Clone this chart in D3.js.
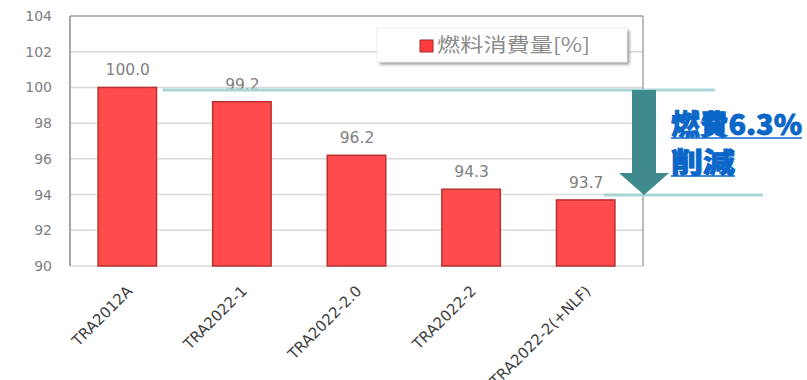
<!DOCTYPE html>
<html>
<head>
<meta charset="utf-8">
<script src="https://cdn.jsdelivr.net/npm/d3@7"></script>
<style>
  html, body { margin: 0; padding: 0; background: #ffffff; }
  svg { display: block; }
</style>
</head>
<body>
<svg id="chart" width="807" height="380"></svg>
<script>
// Fuel consumption per configuration, relative to the baseline (100 %)
const categories = ["TRA2012A", "TRA2022-1", "TRA2022-2.0", "TRA2022-2", "TRA2022-2(+NLF)"];
const fuelValues = [100.0, 99.2, 96.2, 94.3, 93.7];
const yTickValues = [90, 92, 94, 96, 98, 100, 102, 104];
const legendLabel = "燃料消費量[%]";
const calloutLines = ["燃費6.3%", "削減"];

const W = 807, H = 380;
const margin = { top: 16, right: 164, bottom: 114, left: 70 };
const innerW = W - margin.left - margin.right;
const innerH = H - margin.top - margin.bottom;

const svg = d3.select("#chart");
const defs = svg.append("defs");
defs.append("filter").attr("id", "legendShadow")
  .attr("x", "-10%").attr("y", "-30%").attr("width", "130%").attr("height", "180%")
  .append("feGaussianBlur").attr("stdDeviation", 1.5);

const x = d3.scaleBand().domain(categories)
  .range([margin.left, margin.left + innerW]).paddingInner(0.49).paddingOuter(0.245);
const y = d3.scaleLinear().domain([90, 104]).range([margin.top + innerH, margin.top]);

// horizontal gridlines
svg.append("g").selectAll("line").data(yTickValues).join("line")
  .attr("x1", margin.left).attr("x2", margin.left + innerW)
  .attr("y1", d => y(d)).attr("y2", d => y(d))
  .attr("stroke", "#d9d9d9").attr("stroke-width", 1.5);

// plot frame (left axis, top and right borders)
const frame = svg.append("g").attr("stroke", "#a6a6a6").attr("fill", "none");
frame.append("line").attr("x1", margin.left).attr("x2", margin.left)
  .attr("y1", y(104)).attr("y2", y(90)).attr("stroke-width", 2);
frame.append("line").attr("x1", margin.left).attr("x2", margin.left + innerW)
  .attr("y1", y(104)).attr("y2", y(104)).attr("stroke-width", 1.5);
frame.append("line").attr("x1", margin.left + innerW).attr("x2", margin.left + innerW)
  .attr("y1", y(104)).attr("y2", y(90)).attr("stroke-width", 1.5);

// y axis labels
const yAxis = svg.append("g")
  .attr("transform", `translate(${margin.left - 18},0)`)
  .call(d3.axisLeft(y).tickValues(yTickValues).tickSize(0).tickPadding(0).tickFormat(d3.format("d")));
yAxis.select(".domain").remove();
yAxis.selectAll("text")
  .attr("font-family", "DejaVu Sans, sans-serif").attr("font-size", 14).attr("fill", "#808080");

// x axis labels, rotated
const xAxis = svg.append("g")
  .attr("transform", `translate(0,${margin.top + innerH})`)
  .call(d3.axisBottom(x).tickSize(0).tickPadding(0));
xAxis.select(".domain").remove();
xAxis.selectAll("text")
  .attr("font-family", "DejaVu Sans, sans-serif").attr("font-size", 15).attr("fill", "#404040")
  .attr("text-anchor", "end").attr("dy", 0).attr("y", 0)
  .attr("transform", "translate(6,26) rotate(-45)");

// bars
svg.append("g").selectAll("rect").data(fuelValues).join("rect")
  .attr("x", (d, i) => x(categories[i]))
  .attr("y", d => y(d))
  .attr("width", x.bandwidth())
  .attr("height", d => y(90) - y(d))
  .attr("fill", "#ff4b4b").attr("stroke", "#b83030").attr("stroke-width", 1.5);

// value labels
svg.append("g").selectAll("text").data(fuelValues).join("text")
  .attr("x", (d, i) => x(categories[i]) + x.bandwidth() / 2 + 0.5)
  .attr("y", d => y(d) - 12)
  .attr("text-anchor", "middle")
  .attr("font-family", "DejaVu Sans, sans-serif").attr("font-size", 15.5).attr("fill", "#808080")
  .text(d => d.toFixed(1));

// legend
const lg = svg.append("g").attr("transform", "translate(377,28)");
lg.append("rect").attr("x", 2.5).attr("y", 2.5).attr("width", 250).attr("height", 34)
  .attr("fill", "#9a9a9a").attr("filter", "url(#legendShadow)");
lg.append("rect").attr("width", 250).attr("height", 34)
  .attr("fill", "#ffffff").attr("stroke", "#ececec").attr("stroke-width", 1);
lg.append("rect").attr("x", 43).attr("y", 12).attr("width", 13).attr("height", 12)
  .attr("fill", "#ff3b3b").attr("stroke", "#a02828").attr("stroke-width", 1);
lg.append("text").attr("x", 60).attr("y", 24)
  .attr("font-family", "Noto Sans CJK JP, sans-serif").attr("font-size", 19.5).attr("fill", "#8c8c8c")
  .attr("textLength", 153).attr("lengthAdjust", "spacingAndGlyphs")
  .text(legendLabel);

// reduction callout: reference lines at the first and last bar levels
const lastCat = categories[categories.length - 1];
const topY = y(fuelValues[0]) + 2.5;
const botY = y(fuelValues[fuelValues.length - 1]) - 5;
const note = svg.append("g");
note.append("line")
  .attr("x1", x(categories[0]) + x.bandwidth() + 6).attr("x2", 715)
  .attr("y1", topY).attr("y2", topY)
  .attr("stroke", "#a9d6d7").attr("stroke-width", 3);
note.append("line")
  .attr("x1", x(lastCat) + x.bandwidth() / 2 + 18).attr("x2", 763)
  .attr("y1", botY).attr("y2", botY)
  .attr("stroke", "#a9d6d7").attr("stroke-width", 3);

// downward arrow
const ax = margin.left + innerW + 1;
const shaftHalf = 12, headHalf = 25, headBase = botY - 22;
note.append("path")
  .attr("d", `M${ax - shaftHalf},${topY} L${ax + shaftHalf},${topY} L${ax + shaftHalf},${headBase}
              L${ax + headHalf},${headBase} L${ax},${botY} L${ax - headHalf},${headBase}
              L${ax - shaftHalf},${headBase} Z`)
  .attr("fill", "#3e8a8c");

// callout text (underlined)
const textX = 671;
const lineY = [135, 173];
const lineLen = [131, 64];
calloutLines.forEach((t, i) => {
  note.append("text").attr("x", textX).attr("y", lineY[i])
    .attr("font-family", "Noto Sans CJK JP, sans-serif").attr("font-weight", 900)
    .attr("font-size", 28).attr("fill", "#0a66c8")
    .attr("stroke", "#0a66c8").attr("stroke-width", 0.8)
    .attr("textLength", lineLen[i]).attr("lengthAdjust", "spacingAndGlyphs")
    .text(t);
  note.append("line").attr("x1", textX).attr("x2", textX + lineLen[i])
    .attr("y1", lineY[i] + 3).attr("y2", lineY[i] + 3)
    .attr("stroke", "#0a66c8").attr("stroke-width", 1.5);
});
</script>
</body>
</html>
